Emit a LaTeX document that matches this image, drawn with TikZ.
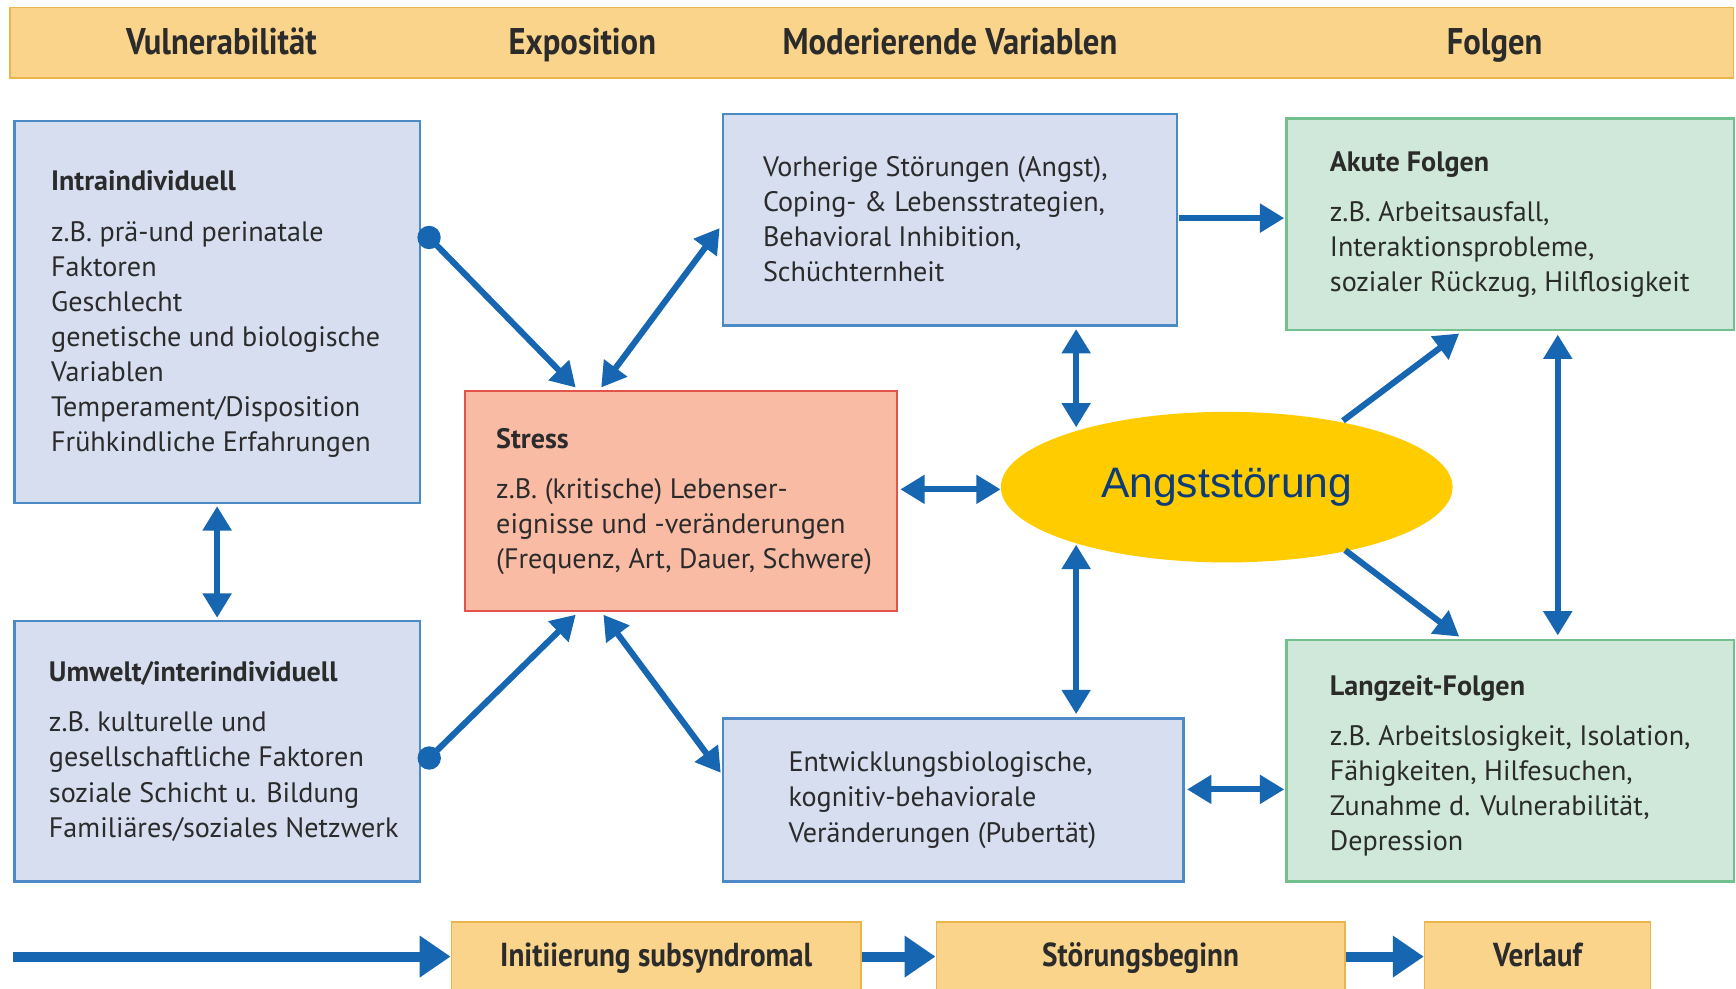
\documentclass[tikz,border=0pt]{standalone}
\usepackage{fontspec}
\setmainfont{PT Sans}
\newfontfamily\hdrfont[FakeStretch=0.88]{PT Sans}
\newfontfamily\arialfont{Liberation Sans}
\usetikzlibrary{arrows.meta,calc,shapes.geometric}
\definecolor{arrowblue}{RGB}{22,102,178}
\definecolor{bluefill}{RGB}{214,222,240}
\definecolor{blueline}{RGB}{76,138,198}
\definecolor{redfill}{RGB}{249,187,164}
\definecolor{redline}{RGB}{226,83,76}
\definecolor{greenfill}{RGB}{207,232,217}
\definecolor{greenline}{RGB}{114,192,142}
\definecolor{barfill}{RGB}{249,212,138}
\definecolor{barline}{RGB}{234,181,76}
\definecolor{txt}{RGB}{43,43,43}
\definecolor{ellfill}{RGB}{255,204,0}
\definecolor{elltxt}{RGB}{13,60,120}
\tikzset{
  boxbase/.style={draw, line width=2.2pt, rectangle, anchor=north west, inner sep=0pt},
  bluebox/.style={boxbase, fill=bluefill, draw=blueline},
  redbox/.style={boxbase, fill=redfill, draw=redline},
  greenbox/.style={boxbase, fill=greenfill, draw=greenline},
  barbox/.style={boxbase, fill=barfill, draw=barline, line width=1.5pt},
  bodytext/.style={anchor=north west, align=left, inner sep=0pt, text=txt,
     font=\fontsize{25.4}{31.7}\selectfont},
  hdr/.style={text=txt, inner sep=0pt, anchor=base, font=\hdrfont\bfseries\fontsize{33.5}{36}\selectfont},
  lowhdr/.style={text=txt, inner sep=0pt, anchor=base, font=\hdrfont\bfseries\fontsize{30}{34}\selectfont},
  conn/.style={draw=arrowblue, line width=5.5pt},
  tip/.style={-{Triangle[width=25pt,length=22pt]}},
  tips/.style={{Triangle[width=25pt,length=22pt]}-{Triangle[width=25pt,length=22pt]}},
  dottip/.style={{Circle[length=21pt]}-{Triangle[width=25pt,length=22pt]}},
  bigtip/.style={-{Triangle[width=36pt,length=28pt]}, draw=arrowblue, line width=9pt},
}
\begin{document}
\begin{tikzpicture}[x=1pt,y=-1pt]
\useasboundingbox[fill=white] (0,0) rectangle (1568,893);

% top bar
\node[barbox, minimum width=1557, minimum height=64] (bar) at (8,6) {};
\node[hdr] (h1) at (200,49) {Vulnerabilität};
\node[hdr] (h2) at (526,49) {Exposition};
\node[hdr] (h3) at (858,49) {Moderierende Variablen};
\node[hdr] (h4) at (1350,49) {Folgen};

% boxes
\node[bluebox, minimum width=366, minimum height=345] (intra) at (12,108) {};
\node[bodytext] (intraT) at ($(intra.north west)+(34,46)$)
 {\textbf{Intraindividuell}\\[14pt]
  z.B. prä-und perinatale\\ Faktoren\\ Geschlecht\\ genetische und biologische\\
  Variablen\\ Temperament/Disposition\\ Frühkindliche Erfahrungen};

\node[bluebox, minimum width=366, minimum height=235] (umwelt) at (12,560) {};
\node[bodytext] (umweltT) at ($(umwelt.north west)+(32,37)$)
 {\textbf{Umwelt/interindividuell}\\[14pt]
  z.B. kulturelle und\\ gesellschaftliche Faktoren\\ soziale Schicht u. Bildung\\
  Familiäres/soziales Netzwerk};

\node[redbox, minimum width=390, minimum height=199] (stress) at (419,352) {};
\node[bodytext] (stressT) at ($(stress.north west)+(29,35)$)
 {\textbf{Stress}\\[13pt]
  z.B. (kritische) Lebenser-\\ eignisse und -veränderungen\\ (Frequenz, Art, Dauer, Schwere)};

\node[bluebox, minimum width=410, minimum height=191] (vor) at (652,102) {};
\node[bodytext] (vorT) at ($(vor.north west)+(37,39)$)
 {Vorherige Störungen (Angst),\\ Coping- \& Lebensstrategien,\\ Behavioral Inhibition,\\ Schüchternheit};

\node[bluebox, minimum width=416, minimum height=147] (entw) at (652,648) {};
\node[bodytext] (entwT) at ($(entw.north west)+(60,31)$)
 {Entwicklungsbiologische,\\ kognitiv-behaviorale\\ Veränderungen (Pubertät)};

\node[greenbox, minimum width=404, minimum height=191] (akute) at (1161,106) {};
\node[bodytext] (akuteT) at ($(akute.north west)+(40,31)$)
 {\textbf{Akute Folgen}\\[13pt]
  z.B. Arbeitsausfall,\\ Interaktionsprobleme,\\ sozialer Rückzug, Hilflosigkeit};

\node[greenbox, minimum width=404, minimum height=218] (lang) at (1161,577) {};
\node[bodytext] (langT) at ($(lang.north west)+(40,33)$)
 {\textbf{Langzeit-Folgen}\\[13pt]
  z.B. Arbeitslosigkeit, Isolation,\\ Fähigkeiten, Hilfesuchen,\\ Zunahme d. Vulnerabilität,\\ Depression};

\node[ellipse, fill=ellfill, minimum width=408, minimum height=136, inner sep=0pt,
      text=elltxt, font=\arialfont\fontsize{38.5}{44}\selectfont] (ell) at (1108,440) {Angststörung};

% connectors
\draw[conn, dottip] ($(intra.north east)+(0,99)$) -- ($(stress.north west)+(101,-2)$);
\draw[conn, tips] ($(stress.north west)+(124,-2)$) -- ($(vor.north west)+(-2,104)$);
\draw[conn, dottip] ($(umwelt.north east)+(0,132)$) -- ($(stress.south west)+(101,2)$);
\draw[conn, tips] ($(stress.south west)+(126,2)$) -- ($(entw.north west)+(-1,50)$);
\draw[conn, tips] ($(intra.south)+(0,2)$) -- ($(umwelt.north)+(0,-2)$);
\draw[conn, tips] ($(stress.north east)+(2,90)$) -- ($(ell.west)+(0,2)$);
\draw[conn, tips] ($(vor.south west)+(320,2)$) -- ($(ell.center)+(-136,-54)$);
\draw[conn, tips] ($(ell.center)+(-136,52)$) -- ($(entw.north west)+(320,-3)$);
\draw[conn, tip] ($(vor.north east)+(1,95)$) -- ($(akute.north west)+(-1,91)$);
\draw[conn, tip] ($(ell.center)+(105,-60)$) -- ($(akute.south west)+(157,2)$);
\draw[conn, tip] ($(ell.center)+(107,57)$) -- ($(lang.north west)+(157,-2)$);
\draw[conn, tips] ($(akute.south west)+(246,3)$) -- ($(lang.north west)+(246,-3)$);
\draw[conn, tips] ($(entw.north east)+(2,65)$) -- ($(lang.north west)+(-1,136)$);

% bottom timeline
\coordinate (tstart) at (12,864);
\node[barbox, minimum width=370, minimum height=64] (init) at (407,832) {};
\node[lowhdr] (initT) at ($(init.north)+(0,41)$) {Initiierung subsyndromal};
\node[barbox, minimum width=369, minimum height=64] (beginn) at (845,832) {};
\node[lowhdr] (beginnT) at ($(beginn.north)+(0,41)$) {Störungsbeginn};
\node[barbox, minimum width=204, minimum height=64] (verlauf) at (1286,832) {};
\node[lowhdr] (verlaufT) at ($(verlauf.north)+(0,41)$) {Verlauf};
\draw[bigtip] (tstart) -- (tstart -| init.west);
\draw[bigtip] (init.east |- tstart) -- (tstart -| beginn.west);
\draw[bigtip] (beginn.east |- tstart) -- (tstart -| verlauf.west);
\end{tikzpicture}
\end{document}
